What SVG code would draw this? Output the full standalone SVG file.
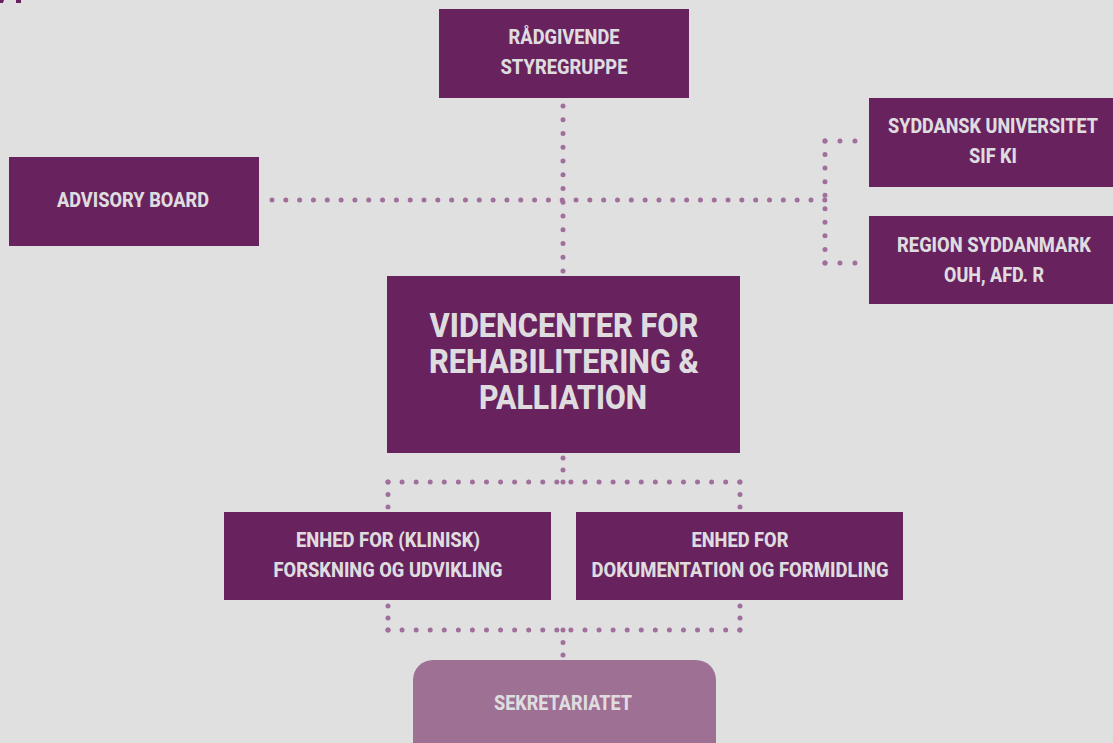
<svg xmlns="http://www.w3.org/2000/svg" width="1113" height="743" viewBox="0 0 1113 743">
<style>
.box{fill:#68235f}
.sek{fill:#9e7094}
.t{font-family:Roboto,"Liberation Sans",sans-serif;font-weight:800;fill:#dfdcdf;text-anchor:middle}
.s{font-size:20px}
.b{font-size:33px}
.dot{fill:none;stroke:#a06f9c;stroke-width:5;stroke-linecap:round}
</style>
<rect width="1113" height="743" fill="#e0e0e0"/>
<path d="M0 0h4l-1 3h-3z M16 0h5v3h-5z" fill="#68235f"/>
<g id="connectors">
<path class="dot" d="M563 106V271.5" stroke-dasharray="0 13.74"/>
<path class="dot" d="M272 200H825.5" stroke-dasharray="0 13.82"/>
<path class="dot" d="M825 141V263.5" stroke-dasharray="0 13.55"/>
<path class="dot" d="M825 141H855.5" stroke-dasharray="0 14.98"/>
<path class="dot" d="M825 263H855.5" stroke-dasharray="0 14.98"/>
<path class="dot" d="M563 458V482.5" stroke-dasharray="0 11.98"/>
<path class="dot" d="M388 482H740.5" stroke-dasharray="0 14.07"/>
<path class="dot" d="M388 482V507.5" stroke-dasharray="0 12.48"/>
<path class="dot" d="M740 482V507.5" stroke-dasharray="0 12.48"/>
<path class="dot" d="M388 606V630.5" stroke-dasharray="0 11.98"/>
<path class="dot" d="M740 606V630.5" stroke-dasharray="0 11.98"/>
<path class="dot" d="M388 630H740.5" stroke-dasharray="0 14.07"/>
<path class="dot" d="M563 630V655.5" stroke-dasharray="0 12.48"/>
</g>
<g id="raadgivende">
<rect class="box" x="439" y="9" width="250" height="89"/>
<text class="t s" x="564" y="44" textLength="111" lengthAdjust="spacingAndGlyphs">RÅDGIVENDE</text>
<text class="t s" x="564" y="74" textLength="127" lengthAdjust="spacingAndGlyphs">STYREGRUPPE</text>
</g>
<g id="advisory">
<rect class="box" x="9" y="157" width="250" height="89"/>
<text class="t s" x="133" y="207" textLength="152" lengthAdjust="spacingAndGlyphs">ADVISORY BOARD</text>
</g>
<g id="syddansk">
<rect class="box" x="869" y="98" width="244" height="89"/>
<text class="t s" x="993" y="133" textLength="210" lengthAdjust="spacingAndGlyphs">SYDDANSK UNIVERSITET</text>
<text class="t s" x="993" y="163" textLength="48" lengthAdjust="spacingAndGlyphs">SIF KI</text>
</g>
<g id="region">
<rect class="box" x="869" y="216" width="244" height="88"/>
<text class="t s" x="994" y="252" textLength="194" lengthAdjust="spacingAndGlyphs">REGION SYDDANMARK</text>
<text class="t s" x="994" y="282" textLength="100" lengthAdjust="spacingAndGlyphs">OUH, AFD. R</text>
</g>
<g id="videncenter">
<rect class="box" x="387" y="276" width="353" height="177"/>
<text class="t b" x="564" y="337" textLength="269" lengthAdjust="spacingAndGlyphs">VIDENCENTER FOR</text>
<text class="t b" x="564" y="373" textLength="270" lengthAdjust="spacingAndGlyphs">REHABILITERING &amp;</text>
<text class="t b" x="563" y="409" textLength="168" lengthAdjust="spacingAndGlyphs">PALLIATION</text>
</g>
<g id="forskning">
<rect class="box" x="224" y="512" width="327" height="88"/>
<text class="t s" x="388" y="547" textLength="184" lengthAdjust="spacingAndGlyphs">ENHED FOR (KLINISK)</text>
<text class="t s" x="388" y="577" textLength="229" lengthAdjust="spacingAndGlyphs">FORSKNING OG UDVIKLING</text>
</g>
<g id="dokumentation">
<rect class="box" x="576" y="512" width="327" height="88"/>
<text class="t s" x="740" y="547" textLength="97" lengthAdjust="spacingAndGlyphs">ENHED FOR</text>
<text class="t s" x="740" y="577" textLength="297" lengthAdjust="spacingAndGlyphs">DOKUMENTATION OG FORMIDLING</text>
</g>
<g id="sekretariatet">
<rect class="sek" x="413" y="660" width="303" height="110" rx="20"/>
<text class="t s" x="563" y="710" textLength="138" lengthAdjust="spacingAndGlyphs">SEKRETARIATET</text>
</g>
</svg>
